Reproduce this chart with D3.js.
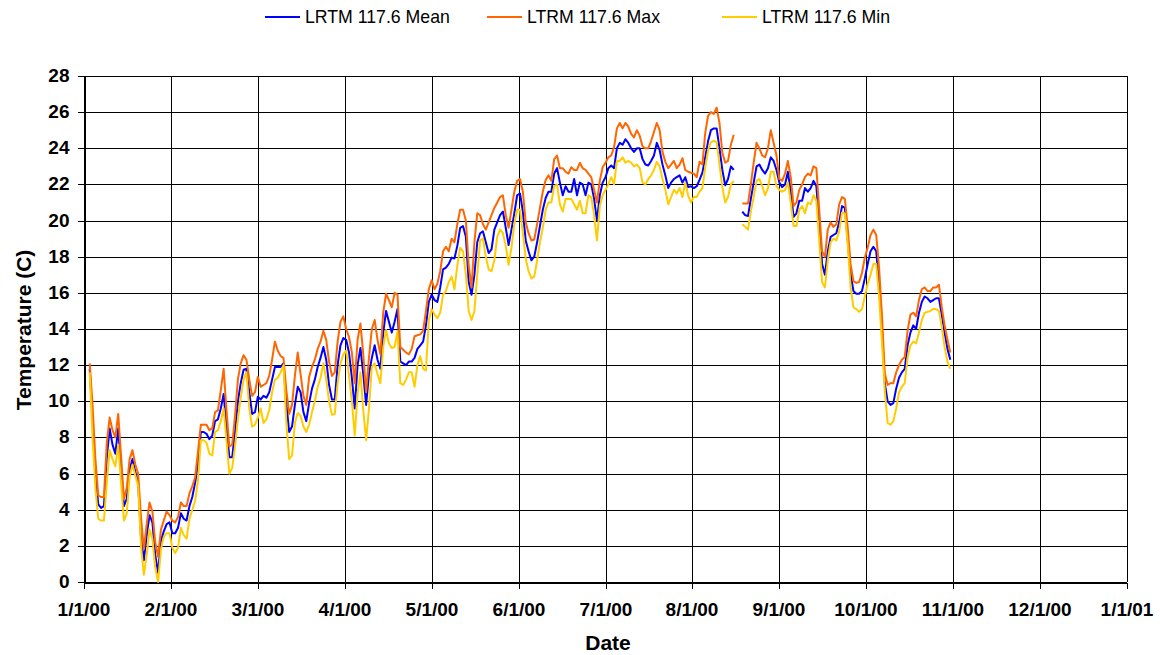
<!DOCTYPE html>
<html>
<head>
<meta charset="utf-8">
<script src="https://cdn.jsdelivr.net/npm/d3@7"></script>
<style>
  html, body { margin: 0; padding: 0; background: #fff; }
  svg { display: block; font-family: "Liberation Sans", Arial, Helvetica, sans-serif; }
</style>
</head>
<body>
<script>
// ---------------- DATA ----------------
// Daily values starting 1/3/2000 (null = missing)
const startDate = Date.UTC(2000, 0, 3);

const meanValues = [
  11.8, 9.0, 6.0, 4.3, 4.1, 4.2, 6.9, 8.5, 7.6, 7.1,
  8.5, 6.3, 4.2, 4.6, 6.2, 6.8, 6.1, 5.5, 2.5, 1.2,
  2.6, 3.7, 3.3, 1.5, 0.5, 2.3, 2.8, 3.2, 3.3, 2.7,
  2.7, 3.0, 3.8, 3.5, 3.4, 4.2, 4.7, 5.5, 6.5, 8.3,
  8.3, 8.2, 7.9, 8.1, 8.9, 9.0, 9.6, 10.4, 8.6, 6.9,
  6.9, 8.3, 10.0, 11.0, 11.75, 11.8, 10.5, 9.3, 9.4, 10.25,
  10.1, 10.3, 10.2, 10.5, 11.2, 11.9, 11.9, 11.9, 12.1, 9.9,
  8.3, 8.6, 9.8, 10.8, 10.5, 9.4, 8.9, 9.9, 10.7, 11.2,
  11.9, 12.4, 13.0, 12.3, 10.9, 10.1, 10.1, 12.0, 13.1, 13.5,
  13.4, 12.7, 11.3, 9.6, 12.0, 12.95, 11.5, 9.8, 11.5, 12.4,
  13.1, 12.3, 11.8, 13.8, 15.0, 14.4, 13.8, 14.4, 15.1, 12.2,
  12.1, 12.0, 12.2, 12.2, 12.4, 12.9, 13.1, 13.3, 14.2, 15.5,
  15.9, 15.6, 15.5, 16.3, 17.3, 17.4, 17.6, 17.95, 17.9, 18.6,
  19.6, 19.7, 19.1, 16.6, 15.9, 17.0, 18.8, 19.3, 19.4, 18.8,
  18.2, 18.4, 19.5, 19.9, 20.3, 20.5, 19.6, 18.65, 19.5, 20.4,
  21.4, 21.5, 20.5, 18.9, 18.3, 17.8, 18.0, 18.8, 19.7, 20.6,
  21.25, 21.6, 21.6, 22.6, 22.9, 22.1, 21.4, 21.9, 21.6, 21.6,
  22.3, 21.4, 22.1, 22.0, 21.4, 22.1, 22.0, 21.2, 20.0, 21.4,
  22.1, 22.4, 22.9, 23.05, 22.9, 24.0, 24.3, 24.2, 24.5, 24.3,
  24.0, 23.8, 24.0, 24.0, 23.4, 23.1, 23.05, 23.3, 23.6, 24.3,
  23.9, 23.1, 22.5, 21.8, 22.1, 22.3, 22.4, 22.5, 22.1, 22.4,
  21.85, 21.9, 21.8, 21.9, 22.25, 22.65, 23.5, 24.4, 25.0, 25.1,
  25.1, 24.0, 22.8, 21.95, 22.3, 23.0, 22.8, null, null, 20.5,
  20.3, 20.25, 21.2, 22.1, 23.0, 23.1, 22.8, 22.6, 22.9, 23.5,
  23.3, 22.8, 22.1, 21.85, 22.0, 22.7, 21.6, 20.2, 20.4, 21.1,
  21.1, 21.8, 21.6, 21.8, 22.2, 21.9, 19.8, 17.6, 17.0, 18.3,
  19.1, 19.2, 19.3, 19.9, 20.8, 20.7, 18.9, 17.1, 16.1, 15.95,
  15.95, 16.1, 16.8, 17.6, 18.3, 18.55, 18.3, 16.5, 14.0, 11.0,
  10.0, 9.8, 9.9, 10.7, 11.3, 11.6, 11.8, 13.1, 13.8, 14.2,
  14.0, 14.9, 15.5, 15.8, 15.7, 15.5, 15.6, 15.7, 15.7, 14.8,
  13.8, 12.9, 12.3
];

const maxValues = [
  12.1, 9.8, 6.8, 4.8, 4.7, 4.7, 7.7, 9.1, 8.4, 8.0,
  9.3, 7.0, 4.6, 5.2, 6.8, 7.3, 6.5, 6.0, 3.6, 1.8,
  3.2, 4.4, 3.9, 2.2, 1.4, 2.9, 3.4, 3.9, 3.7, 3.4,
  3.3, 3.6, 4.4, 4.2, 4.2, 4.9, 5.3, 5.8, 7.2, 8.7,
  8.7, 8.7, 8.4, 8.5, 9.4, 9.5, 10.6, 11.8, 9.5, 7.5,
  7.6, 9.2, 11.2, 12.1, 12.55, 12.3, 11.2, 10.3, 10.5, 11.35,
  10.8, 10.9, 11.0, 11.4, 12.3, 13.3, 12.8, 12.5, 12.4, 10.6,
  9.3, 9.8, 11.4, 12.7, 11.5, 10.3, 9.8, 11.35, 11.9, 12.3,
  12.9, 13.3, 13.9, 13.4, 12.2, 11.4, 11.6, 13.3, 14.4, 14.7,
  14.0, 13.55, 12.7, 11.0, 13.4, 14.3, 12.6, 10.5, 12.4, 14.0,
  14.5, 13.4, 12.6, 14.9, 15.95, 15.6, 15.2, 16.0, 15.9, 13.0,
  12.85, 12.7, 12.6, 12.9, 13.6, 13.65, 13.7, 13.9, 15.0, 16.2,
  16.7, 16.2, 16.5, 17.2, 18.3, 18.55, 18.3, 19.0, 18.8, 19.8,
  20.6, 20.6, 20.0, 17.5, 16.3, 18.8, 20.4, 20.3, 19.8, 19.5,
  19.9, 20.3, 20.7, 21.0, 21.3, 21.4, 20.3, 19.6, 20.6, 21.6,
  22.2, 22.3, 21.6, 19.9, 19.3, 18.9, 18.95, 19.8, 20.7, 21.6,
  22.25, 22.5, 22.2, 23.4, 23.6, 22.9, 22.9, 22.7, 22.6, 22.95,
  22.8, 22.8, 23.2, 22.9, 22.8, 22.6, 22.4, 21.7, 21.0, 22.2,
  22.95, 23.2, 23.5, 23.6, 24.05, 25.1, 25.4, 25.1, 25.4, 25.2,
  24.8, 24.6, 25.0, 24.7, 24.1, 24.0, 24.0, 24.4, 24.9, 25.4,
  25.0, 23.8, 23.25, 22.9, 23.1, 23.3, 22.9, 23.1, 23.45, 22.8,
  22.7, 22.65, 22.6, 22.4, 23.25, 23.1, 24.85, 25.8, 26.0, 25.9,
  26.25, 25.4, 23.75, 23.2, 23.3, 24.2, 24.75, null, null, 20.95,
  20.95, 20.95, 22.0, 23.2, 24.3, 24.0, 23.6, 23.5, 24.0, 25.0,
  24.3, 23.6, 22.3, 22.2, 22.6, 23.3, 22.4, 20.8, 21.0, 21.7,
  22.0, 22.4, 22.6, 22.5, 23.0, 22.9, 20.6, 18.3, 18.0, 19.5,
  19.9, 19.65, 19.8, 20.9, 21.3, 21.2, 19.6, 17.6, 16.65, 16.55,
  16.6, 17.1, 17.95, 18.5, 19.2, 19.5, 19.2, 17.4, 14.8, 11.55,
  10.9, 11.0, 11.0, 11.6, 12.0, 12.3, 12.45, 13.9, 14.8, 14.9,
  14.7, 15.6, 16.2, 16.3, 16.1, 16.1, 16.3, 16.3, 16.45, 15.2,
  14.2, 13.4, 12.7
];

const minValues = [
  11.6, 8.0, 5.2, 3.5, 3.4, 3.4, 5.5, 7.3, 6.8, 6.4,
  7.6, 5.5, 3.4, 3.8, 5.8, 6.5, 5.9, 5.3, 2.0, 0.4,
  1.5, 2.9, 2.4, 0.8, 0.0, 1.8, 2.5, 2.7, 2.7, 1.9,
  1.6, 1.9, 3.0, 2.6, 2.4, 3.5, 4.0, 4.5, 5.6, 7.85,
  7.85, 7.7, 7.1, 7.0, 8.3, 8.4, 8.9, 9.6, 7.8, 6.0,
  6.3, 7.5, 9.0, 10.2, 11.2, 11.6, 9.6, 8.6, 8.7, 9.1,
  9.6, 8.8, 9.0, 9.5, 10.5, 11.2, 11.3, 11.6, 12.0, 8.8,
  6.8, 7.0, 8.8, 9.35, 9.2, 8.6, 8.3, 8.7, 9.4, 10.0,
  10.8, 11.3, 12.1, 11.2, 10.0, 9.25, 9.3, 11.0, 12.1, 12.6,
  12.8, 11.4, 10.0, 8.1, 10.4, 11.6, 9.5, 7.85, 9.6, 11.9,
  12.1, 11.5, 11.0, 13.0, 13.95, 13.2, 12.95, 13.0, 13.9, 11.0,
  10.9, 11.2, 11.6, 11.6, 10.8, 12.0, 12.5, 11.8, 11.7, 14.5,
  15.1, 14.8, 14.6, 14.9, 15.9, 16.1, 16.6, 16.9, 16.2, 17.5,
  18.5, 18.3, 17.0, 15.0, 14.5, 15.0, 17.0, 18.9, 19.0, 18.0,
  17.3, 17.2, 17.8, 19.1, 19.5, 19.3, 18.6, 17.55, 18.5, 19.8,
  20.6, 20.6, 19.3, 17.9, 17.2, 16.8, 16.9, 17.8, 18.8, 19.6,
  20.6, 21.0, 21.0, 21.9, 22.0, 20.9, 20.5, 21.2, 21.2, 21.2,
  20.9, 20.6, 21.1, 20.4, 20.4, 21.4, 21.3, 20.3, 18.9, 20.8,
  21.4, 21.7, 22.0, 22.4, 22.0, 23.3, 23.3, 23.5, 23.2, 23.3,
  23.2, 23.0, 23.1, 22.9, 22.1, 22.0, 22.3, 22.5, 22.8, 23.25,
  23.0, 22.3, 21.7, 20.9, 21.3, 21.7, 21.5, 21.8, 21.3, 22.1,
  21.4, 21.0, 21.3, 21.3, 21.6, 21.8, 22.95, 23.9, 24.35, 24.4,
  24.35, 23.1, 21.85, 21.0, 21.3, 22.0, 22.2, null, null, 19.8,
  19.65, 19.5, 20.5, 21.3, 22.2, 22.3, 21.9, 21.4, 21.8, 22.7,
  22.7, 21.9, 21.7, 21.6, 21.7, 22.1, 21.0, 19.7, 19.7, 20.6,
  20.8, 20.4, 21.0, 20.9, 21.4, 21.1, 18.9, 16.6, 16.3, 17.8,
  18.8, 19.0, 18.9, 19.4, 20.45, 20.4, 18.7, 16.3, 15.2, 15.1,
  14.95, 15.1, 15.8, 16.5, 17.0, 17.6, 17.6, 15.8, 13.3, 10.6,
  8.8, 8.7, 8.9, 9.6, 10.5, 10.8, 11.0, 12.4, 13.1, 13.3,
  13.2, 13.8, 14.5, 14.9, 14.95, 15.0, 15.1, 15.1, 15.0, 14.1,
  13.0, 12.2, 11.8
];

const seriesNames = ["LRTM 117.6 Mean", "LTRM 117.6 Max", "LTRM 117.6 Min"];
const seriesColors = ["#0000FF", "#FF6600", "#FFCC00"];
const xTickLabels = ["1/1/00","2/1/00","3/1/00","4/1/00","5/1/00","6/1/00","7/1/00",
                     "8/1/00","9/1/00","10/1/00","11/1/00","12/1/00","1/1/01"];
const yTickValues = [0,2,4,6,8,10,12,14,16,18,20,22,24,26,28];

// ---------------- CHART ----------------
const W = 1160, H = 655;
const DAY = 86400000;
const x0 = Date.UTC(2000, 0, 1), x1 = Date.UTC(2001, 0, 1);
const x = d3.scaleUtc().domain([new Date(x0), new Date(x1)]).range([84, 1127]);
const y = d3.scaleLinear().domain([0, 28]).range([582, 76]);

// axis major unit: year split into 12 equal steps
const xTickDates = xTickLabels.map((_, i) => new Date(x0 + i * (x1 - x0) / 12));

const svg = d3.select("body").append("svg").attr("width", W).attr("height", H);
svg.append("rect").attr("width", W).attr("height", H).attr("fill", "#fff");

const crisp = v => Math.round(v) + 0.5;

// gridlines
const grid = svg.append("g").attr("shape-rendering", "crispEdges").attr("stroke", "#000").attr("stroke-width", 1);
grid.selectAll("line.h").data(yTickValues).join("line")
  .attr("x1", 84).attr("x2", 1127)
  .attr("y1", d => crisp(y(d))).attr("y2", d => crisp(y(d)));
grid.selectAll("line.v").data(xTickDates).join("line")
  .attr("y1", 76).attr("y2", 582)
  .attr("x1", d => crisp(x(d))).attr("x2", d => crisp(x(d)));

// axes
const yAxis = d3.axisLeft(y).tickValues(yTickValues).tickSize(7).tickPadding(8).tickFormat(d3.format("d"));
const gy = svg.append("g").attr("transform", "translate(84.5,0)").call(yAxis);
const xAxis = d3.axisBottom(x).tickValues(xTickDates).tickSize(6).tickPadding(14)
  .tickFormat((d, i) => xTickLabels[i]);
const gx = svg.append("g").attr("transform", "translate(0,582.5)").call(xAxis);
[gx, gy].forEach(g => {
  g.select(".domain").attr("stroke", "#000").attr("shape-rendering", "crispEdges");
  g.selectAll(".tick line").attr("stroke", "#000").attr("shape-rendering", "crispEdges");
  g.selectAll("text").attr("fill", "#000").attr("font-weight", "bold")
    .attr("font-size", "19px").attr("font-family", "Liberation Sans, Arial, sans-serif");
});
gy.selectAll(".tick").attr("transform", d => `translate(0,${crisp(y(d)) - 0.5})`);
gx.selectAll(".tick").attr("transform", d => `translate(${crisp(x(d)) - 0.5},0)`);

// series
const toPoints = vals => vals.map((v, i) => ({ date: new Date(startDate + i * DAY), v }));
const series = [meanValues, maxValues, minValues].map(toPoints);
const line = d3.line().defined(d => d.v != null).x(d => x(d.date)).y(d => y(d.v));
svg.append("g").selectAll("path").data(series).join("path")
  .attr("d", line).attr("fill", "none")
  .attr("stroke", (d, i) => seriesColors[i]).attr("stroke-width", 2)
  .attr("stroke-linejoin", "round");

// axis titles
svg.append("text").attr("x", 608).attr("y", 650).attr("text-anchor", "middle")
  .attr("font-size", "21px").attr("font-weight", "bold").text("Date");
svg.append("text").attr("transform", "translate(31,330) rotate(-90)").attr("text-anchor", "middle")
  .attr("font-size", "21px").attr("font-weight", "bold").text("Temperature (C)");

// legend
const legendX = [265, 487, 722];
const lg = svg.append("g");
seriesNames.forEach((name, i) => {
  lg.append("line").attr("x1", legendX[i]).attr("x2", legendX[i] + 35)
    .attr("y1", 17).attr("y2", 17).attr("stroke", seriesColors[i]).attr("stroke-width", 2);
  lg.append("text").attr("x", legendX[i] + 40).attr("y", 17).attr("dy", "0.35em")
    .attr("font-size", "17.7px").attr("fill", "#000").text(name);
});
</script>
</body>
</html>
